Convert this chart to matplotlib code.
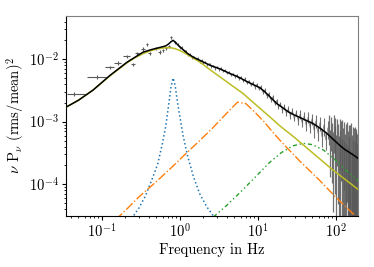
import numpy as np
import matplotlib
matplotlib.use("Agg")
import matplotlib.pyplot as plt

plt.rcParams["font.family"] = "serif"
plt.rcParams["font.serif"] = ["cmr10"]
plt.rcParams["mathtext.fontset"] = "cm"
plt.rcParams["axes.formatter.use_mathtext"] = True
plt.rcParams["axes.unicode_minus"] = False
plt.rcParams["font.size"] = 10.5

# low frequency rebinned data (crosses)
nu_lo = [0.0438, 0.0863, 0.127, 0.16, 0.209, 0.25, 0.281, 0.336, 0.378, 0.41,
         0.49, 0.55, 0.605, 0.66, 0.72, 0.77, 0.86]
p_lo = [2.75e-3, 5.15e-3, 7.4e-3, 8.6e-3, 1.12e-2, 8.3e-3, 1.25e-2, 1.45e-2, 1.74e-2,
        1.25e-2, 1.5e-2, 1.3e-2, 1.39e-2, 1.5e-2, 1.6e-2, 2.25e-2, 1.87e-2]
nu_lo_err_lower = [0.0083, 0.022, 0.018, 0.016, 0.02, 0.015, 0.015, 0.017, 0.015, 0.015,
                   0.02, 0.02, 0.02, 0.02, 0.02, 0.02, 0.02]
nu_lo_err_upper = [0.020, 0.030, 0.018, 0.016, 0.02, 0.015, 0.015, 0.017, 0.015, 0.015,
                   0.02, 0.02, 0.02, 0.02, 0.02, 0.02, 0.02]
p_lo_relerr = [0.08, 0.07, 0.07, 0.07, 0.06, 0.06, 0.06, 0.06, 0.06, 0.06,
               0.06, 0.06, 0.06, 0.06, 0.06, 0.06, 0.06]

# higher frequency data, 1-80 Hz
nu_mid_data = [0.95, 1.0, 1.06, 1.12, 1.19, 1.26, 1.34, 1.42, 1.5, 1.59, 1.69, 1.79, 1.9,
               2.01, 2.13, 2.26, 2.4, 2.54, 2.69, 2.85, 3.02, 3.2, 3.4, 3.6, 3.82, 4.05,
               4.29, 4.55, 4.82, 5.11, 5.42, 5.74, 6.09, 6.45, 6.84, 7.25, 7.69, 8.15,
               8.64, 9.16, 9.71, 10.3, 10.9, 11.6, 12.3, 13.0, 13.8, 14.6, 15.5, 16.4,
               17.4, 18.4, 19.5, 20.7, 21.9, 23.2, 24.6, 26.1, 27.7, 29.3, 31.1, 33.0,
               34.9, 37.0, 39.3, 41.6, 44.1, 46.8, 49.6, 52.5, 55.7, 59.0, 62.6, 66.3,
               70.3, 74.5, 79.0]
p_mid_data = [1.72e-2, 1.52e-2, 1.55e-2, 1.36e-2, 1.37e-2, 1.19e-2, 1.20e-2, 1.06e-2,
              1.10e-2, 1.00e-2, 1.04e-2, 9.2e-3, 9.6e-3, 8.6e-3, 9.0e-3, 8.1e-3, 8.5e-3,
              7.6e-3, 7.8e-3, 7.1e-3, 7.5e-3, 6.8e-3, 7.2e-3, 6.4e-3, 6.7e-3, 5.95e-3,
              6.25e-3, 5.55e-3, 5.85e-3, 5.2e-3, 5.55e-3, 4.85e-3, 5.2e-3, 4.55e-3,
              4.85e-3, 4.15e-3, 4.5e-3, 3.85e-3, 4.2e-3, 3.57e-3, 3.93e-3, 3.33e-3,
              3.62e-3, 2.98e-3, 3.2e-3, 2.6e-3, 2.8e-3, 2.26e-3, 2.48e-3, 1.97e-3,
              2.17e-3, 1.72e-3, 1.94e-3, 1.52e-3, 1.76e-3, 1.37e-3, 1.6e-3, 1.24e-3,
              1.48e-3, 1.13e-3, 1.38e-3, 1.04e-3, 1.32e-3, 9.6e-4, 1.24e-3, 8.8e-4,
              1.18e-3, 8.1e-4, 1.12e-3, 7.4e-4, 1.04e-3, 6.6e-4, 9.6e-4, 5.8e-4, 8.8e-4,
              5.1e-4, 7.9e-4]
p_mid_relerr = [0.04] * 30 + [0.05] * 12 + [0.07] * 11 + [0.1] * 8 + [0.15] * 4 \
    + [0.2] * 4 + [0.25] * 4 + [0.32] * 4

# highest frequencies, very noisy
nu_top_data = [81.5, 84, 86.5, 89, 91.5, 94, 96.5, 99, 101.5, 104, 106.5, 109, 111.5,
               114, 116.5, 119, 121.5, 124, 126.5, 129, 131.5, 134, 136.5, 139, 141.5,
               144, 146.5, 149, 151.5, 154, 156.5, 159, 161.5, 164, 166.5, 169, 171.5,
               174, 176.5, 179, 181.5, 184, 186.5, 189]
p_top_data = [8.5e-4, 4.4e-4, 7.6e-4, 5.2e-4, 3.6e-4, 8.0e-4, 4.6e-4, 6.9e-4, 3.1e-4,
              6.6e-4, 4.8e-4, 2.8e-4, 6.4e-4, 3.5e-4, 5.6e-4, 2.4e-4, 5.9e-4, 3.9e-4,
              2.2e-4, 5.4e-4, 3.0e-4, 4.9e-4, 2.0e-4, 5.2e-4, 3.4e-4, 1.8e-4, 4.6e-4,
              2.7e-4, 4.4e-4, 1.6e-4, 4.7e-4, 2.9e-4, 1.5e-4, 4.1e-4, 2.4e-4, 3.8e-4,
              1.3e-4, 4.0e-4, 2.2e-4, 3.3e-4, 1.2e-4, 3.6e-4, 2.0e-4, 3.0e-4]
p_top_relerr = [0.5, 0.7, 0.55, 0.8, 0.9, 0.6, 0.85, 0.65, 1.0, 0.7, 0.9, 1.1, 0.75,
                1.0, 0.8, 1.2, 0.8, 1.0, 1.2, 0.85, 1.1, 0.9, 1.2, 0.9, 1.1, 1.2, 0.95,
                1.1, 1.0, 1.2, 1.0, 1.1, 1.2, 1.0, 1.15, 1.05, 1.2, 1.05, 1.15, 1.1,
                1.2, 1.1, 1.2, 1.15]

# model components
nu_total = [0.0345, 0.05, 0.077, 0.127, 0.209, 0.336, 0.42, 0.51, 0.6, 0.66, 0.72, 0.77,
            0.82, 0.87, 0.93, 1.0, 1.1, 1.27, 1.5, 1.8, 2.43, 3.26, 4.38, 5.5, 7.2, 9.0,
            10.6, 12.3, 14.3, 17.5, 20.7, 24.3, 29.3, 34.5, 41.6, 50.7, 62.6, 76.7, 93,
            112, 130, 151, 170, 192]
p_total = [1.7e-3, 2.2e-3, 3.2e-3, 5.5e-3, 8.9e-3, 1.29e-2, 1.41e-2, 1.5e-2, 1.58e-2,
           1.63e-2, 1.76e-2, 1.9e-2, 2.0e-2, 1.88e-2, 1.72e-2, 1.58e-2, 1.42e-2, 1.22e-2,
           1.07e-2, 9.6e-3, 8.0e-3, 7.0e-3, 5.9e-3, 5.25e-3, 4.4e-3, 3.85e-3, 3.5e-3,
           3.0e-3, 2.5e-3, 1.95e-3, 1.68e-3, 1.45e-3, 1.28e-3, 1.17e-3, 1.05e-3, 9.4e-4,
           7.9e-4, 6.5e-4, 5.2e-4, 4.2e-4, 3.6e-4, 3.2e-4, 2.9e-4, 2.6e-4]

nu_broad = [0.0345, 0.05, 0.077, 0.127, 0.209, 0.26, 0.336, 0.42, 0.5, 0.59, 0.68, 0.77,
            0.87, 0.98, 1.09, 1.3, 1.5, 1.8, 2.43, 3.5, 4.5, 6.4, 10, 15.1, 19.1, 30, 50,
            91, 192]
p_broad = [1.7e-3, 2.2e-3, 3.2e-3, 5.4e-3, 8.7e-3, 1.04e-2, 1.22e-2, 1.36e-2, 1.45e-2,
           1.5e-2, 1.53e-2, 1.52e-2, 1.47e-2, 1.39e-2, 1.3e-2, 1.15e-2, 1.03e-2, 9.0e-3,
           6.8e-3, 4.9e-3, 3.9e-3, 2.85e-3, 1.75e-3, 1.12e-3, 8.6e-4, 5.5e-4, 3.2e-4,
           1.7e-4, 8.3e-5]

nu_qpo = [0.24, 0.30, 0.36, 0.44, 0.52, 0.60, 0.66, 0.72, 0.77, 0.82, 0.87, 0.93, 1.0,
          1.1, 1.25, 1.5, 1.8, 2.2, 2.8]
p_qpo = [2.8e-5, 4.2e-5, 6.4e-5, 1.2e-4, 2.1e-4, 4.6e-4, 8.5e-4, 1.9e-3, 3.6e-3, 5.0e-3,
         3.8e-3, 2.1e-3, 1.2e-3, 6.0e-4, 2.9e-4, 1.3e-4, 7.0e-5, 4.4e-5, 2.9e-5]

nu_mid = [0.15, 0.2, 0.3, 0.5, 0.8, 1.2, 1.8, 2.6, 3.5, 4.5, 5.5, 7, 9, 12, 16, 22, 35,
          60, 100, 150, 200]
p_mid = [2.7e-5, 3.8e-5, 6.3e-5, 1.1e-4, 1.9e-4, 3.1e-4, 5.0e-4, 7.8e-4, 1.15e-3,
         1.6e-3, 2.05e-3, 1.95e-3, 1.45e-3, 1.0e-3, 6.5e-4, 4.2e-4, 2.3e-4, 1.2e-4,
         6.2e-5, 3.8e-5, 2.7e-5]

nu_high = [2.7, 4, 6, 9, 14, 20, 28, 38, 50, 70, 100, 140, 200]
p_high = [3.0e-5, 4.6e-5, 7.5e-5, 1.25e-4, 2.2e-4, 3.2e-4, 4.1e-4, 4.5e-4, 4.3e-4,
          3.5e-4, 2.4e-4, 1.6e-4, 1.1e-4]

fig = plt.figure(figsize=(3.74, 2.67), dpi=100)
ax = fig.add_axes([0.176, 0.191, 0.781, 0.749])

grey = "0.35"
ax.errorbar(nu_lo, p_lo, xerr=[nu_lo_err_lower, nu_lo_err_upper],
            yerr=np.array(p_lo) * np.array(p_lo_relerr),
            fmt="none", ecolor=grey, elinewidth=0.8, zorder=1)
ax.errorbar(nu_mid_data, p_mid_data, yerr=np.array(p_mid_data) * np.array(p_mid_relerr),
            fmt="none", ecolor=grey, elinewidth=0.8, alpha=0.85, zorder=1)
ax.plot(nu_mid_data, p_mid_data, color=grey, lw=0.6, alpha=0.7, zorder=1)
ax.errorbar(nu_top_data, p_top_data, yerr=np.array(p_top_data) * np.array(p_top_relerr),
            fmt="none", ecolor=grey, elinewidth=0.9, alpha=0.85, zorder=1)

ax.plot(nu_qpo, p_qpo, color="C0", ls=":", lw=1.1, zorder=2)
ax.plot(nu_mid, p_mid, color="C1", ls="-.", lw=1.0, zorder=2)
ax.plot(nu_high, p_high, color="C2", ls=(0, (3, 2, 1, 2, 1, 2)), lw=1.0, zorder=2)
ax.plot(nu_broad, p_broad, color="#bcbd22", ls="-", lw=1.1, zorder=3)
ax.plot(nu_total, p_total, color="k", lw=1.1, zorder=4)

ax.set_xscale("log")
ax.set_yscale("log")
ax.set_xlim(0.0345, 192)
ax.set_ylim(3.1e-5, 0.049)

ax.set_xlabel("Frequency in Hz")
ax.set_ylabel(r"$\nu$ P$_\nu$ (rms/mean)$^2$")
ax.xaxis.set_label_coords(0.5, -0.135)
ax.yaxis.set_label_coords(-0.135, 0.5)

for side in ["top", "right"]:
    ax.spines[side].set_color("0.5")
ax.tick_params(which="major", length=3, width=0.8, pad=2)
ax.tick_params(which="minor", length=1.5, width=0.6)

fig.savefig("out.png", dpi=100)
